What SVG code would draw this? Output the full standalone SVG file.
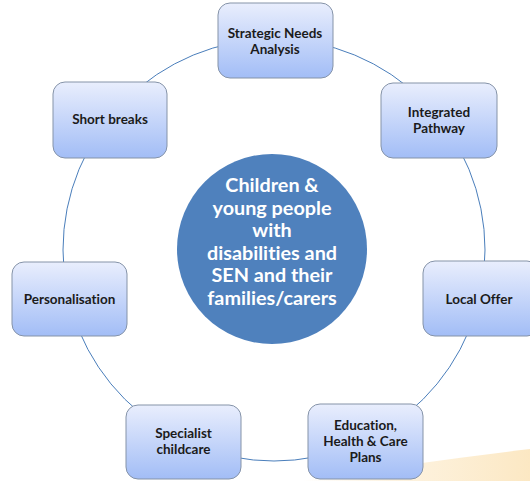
<svg xmlns="http://www.w3.org/2000/svg" width="530" height="481" viewBox="0 0 530 481">
<defs>
<linearGradient id="boxg" x1="0" y1="0" x2="0" y2="1">
<stop offset="0" stop-color="#e9eefd"/>
<stop offset="1" stop-color="#a2bdf6"/>
</linearGradient>
<linearGradient id="sw" x1="0" y1="0" x2="1" y2="0">
<stop offset="0" stop-color="#fcebcc" stop-opacity="0"/>
<stop offset="0.4" stop-color="#fcebcc" stop-opacity="0.6"/>
<stop offset="1" stop-color="#fbe2b4" stop-opacity="0.8"/>
</linearGradient>
<style>
.box{fill:url(#boxg);stroke:#8593a8;stroke-width:1}
.lbl{font-family:Lato,"Liberation Sans",sans-serif;font-weight:bold;font-size:13.5px;fill:#1b1b1b;text-anchor:middle;font-variant-ligatures:none}
.ctr{font-family:Lato,"Liberation Sans",sans-serif;font-weight:bold;font-size:19.8px;fill:#ffffff;text-anchor:middle;font-variant-ligatures:none}
</style>
</defs>
<rect width="530" height="481" fill="#ffffff"/>
<path d="M 300 481 Q 420 462 530 449 L 530 481 Z" fill="url(#sw)"/>
<g id="connectors">
<circle cx="274" cy="250" r="211" fill="none" stroke="#4a7ebb" stroke-width="1"/>
</g>
<g id="center">
<circle cx="272" cy="249" r="95" fill="#4f81bd"/>
<text class="ctr" x="272" y="192">Children &amp;</text>
<text class="ctr" x="272" y="214.5">young people</text>
<text class="ctr" x="272" y="237">with</text>
<text class="ctr" x="272" y="259.5">disabilities and</text>
<text class="ctr" x="272" y="282">SEN and their</text>
<text class="ctr" x="272" y="304.5">families/carers</text>
</g>
<g id="strategic">
<rect class="box" x="218" y="3" width="115" height="75" rx="12"/>
<text class="lbl" x="275" y="38">Strategic Needs</text>
<text class="lbl" x="275" y="54">Analysis</text>
</g>
<g id="integrated">
<rect class="box" x="381" y="83" width="116" height="75" rx="12"/>
<text class="lbl" x="439" y="117">Integrated</text>
<text class="lbl" x="439" y="133">Pathway</text>
</g>
<g id="localoffer">
<rect class="box" x="423" y="261" width="116" height="75" rx="12"/>
<text class="lbl" x="479" y="304">Local Offer</text>
</g>
<g id="ehc">
<rect class="box" x="308" y="404" width="115" height="75" rx="12"/>
<text class="lbl" x="365.5" y="430">Education,</text>
<text class="lbl" x="365.5" y="446">Health &amp; Care</text>
<text class="lbl" x="365.5" y="462">Plans</text>
</g>
<g id="specialist">
<rect class="box" x="126" y="405" width="115" height="74" rx="12"/>
<text class="lbl" x="183.5" y="438">Specialist</text>
<text class="lbl" x="183.5" y="454">childcare</text>
</g>
<g id="personalisation">
<rect class="box" x="12" y="262" width="115" height="74" rx="12"/>
<text class="lbl" x="69.5" y="304">Personalisation</text>
</g>
<g id="shortbreaks">
<rect class="box" x="53" y="82" width="114" height="76" rx="12"/>
<text class="lbl" x="110" y="124">Short breaks</text>
</g>
</svg>
